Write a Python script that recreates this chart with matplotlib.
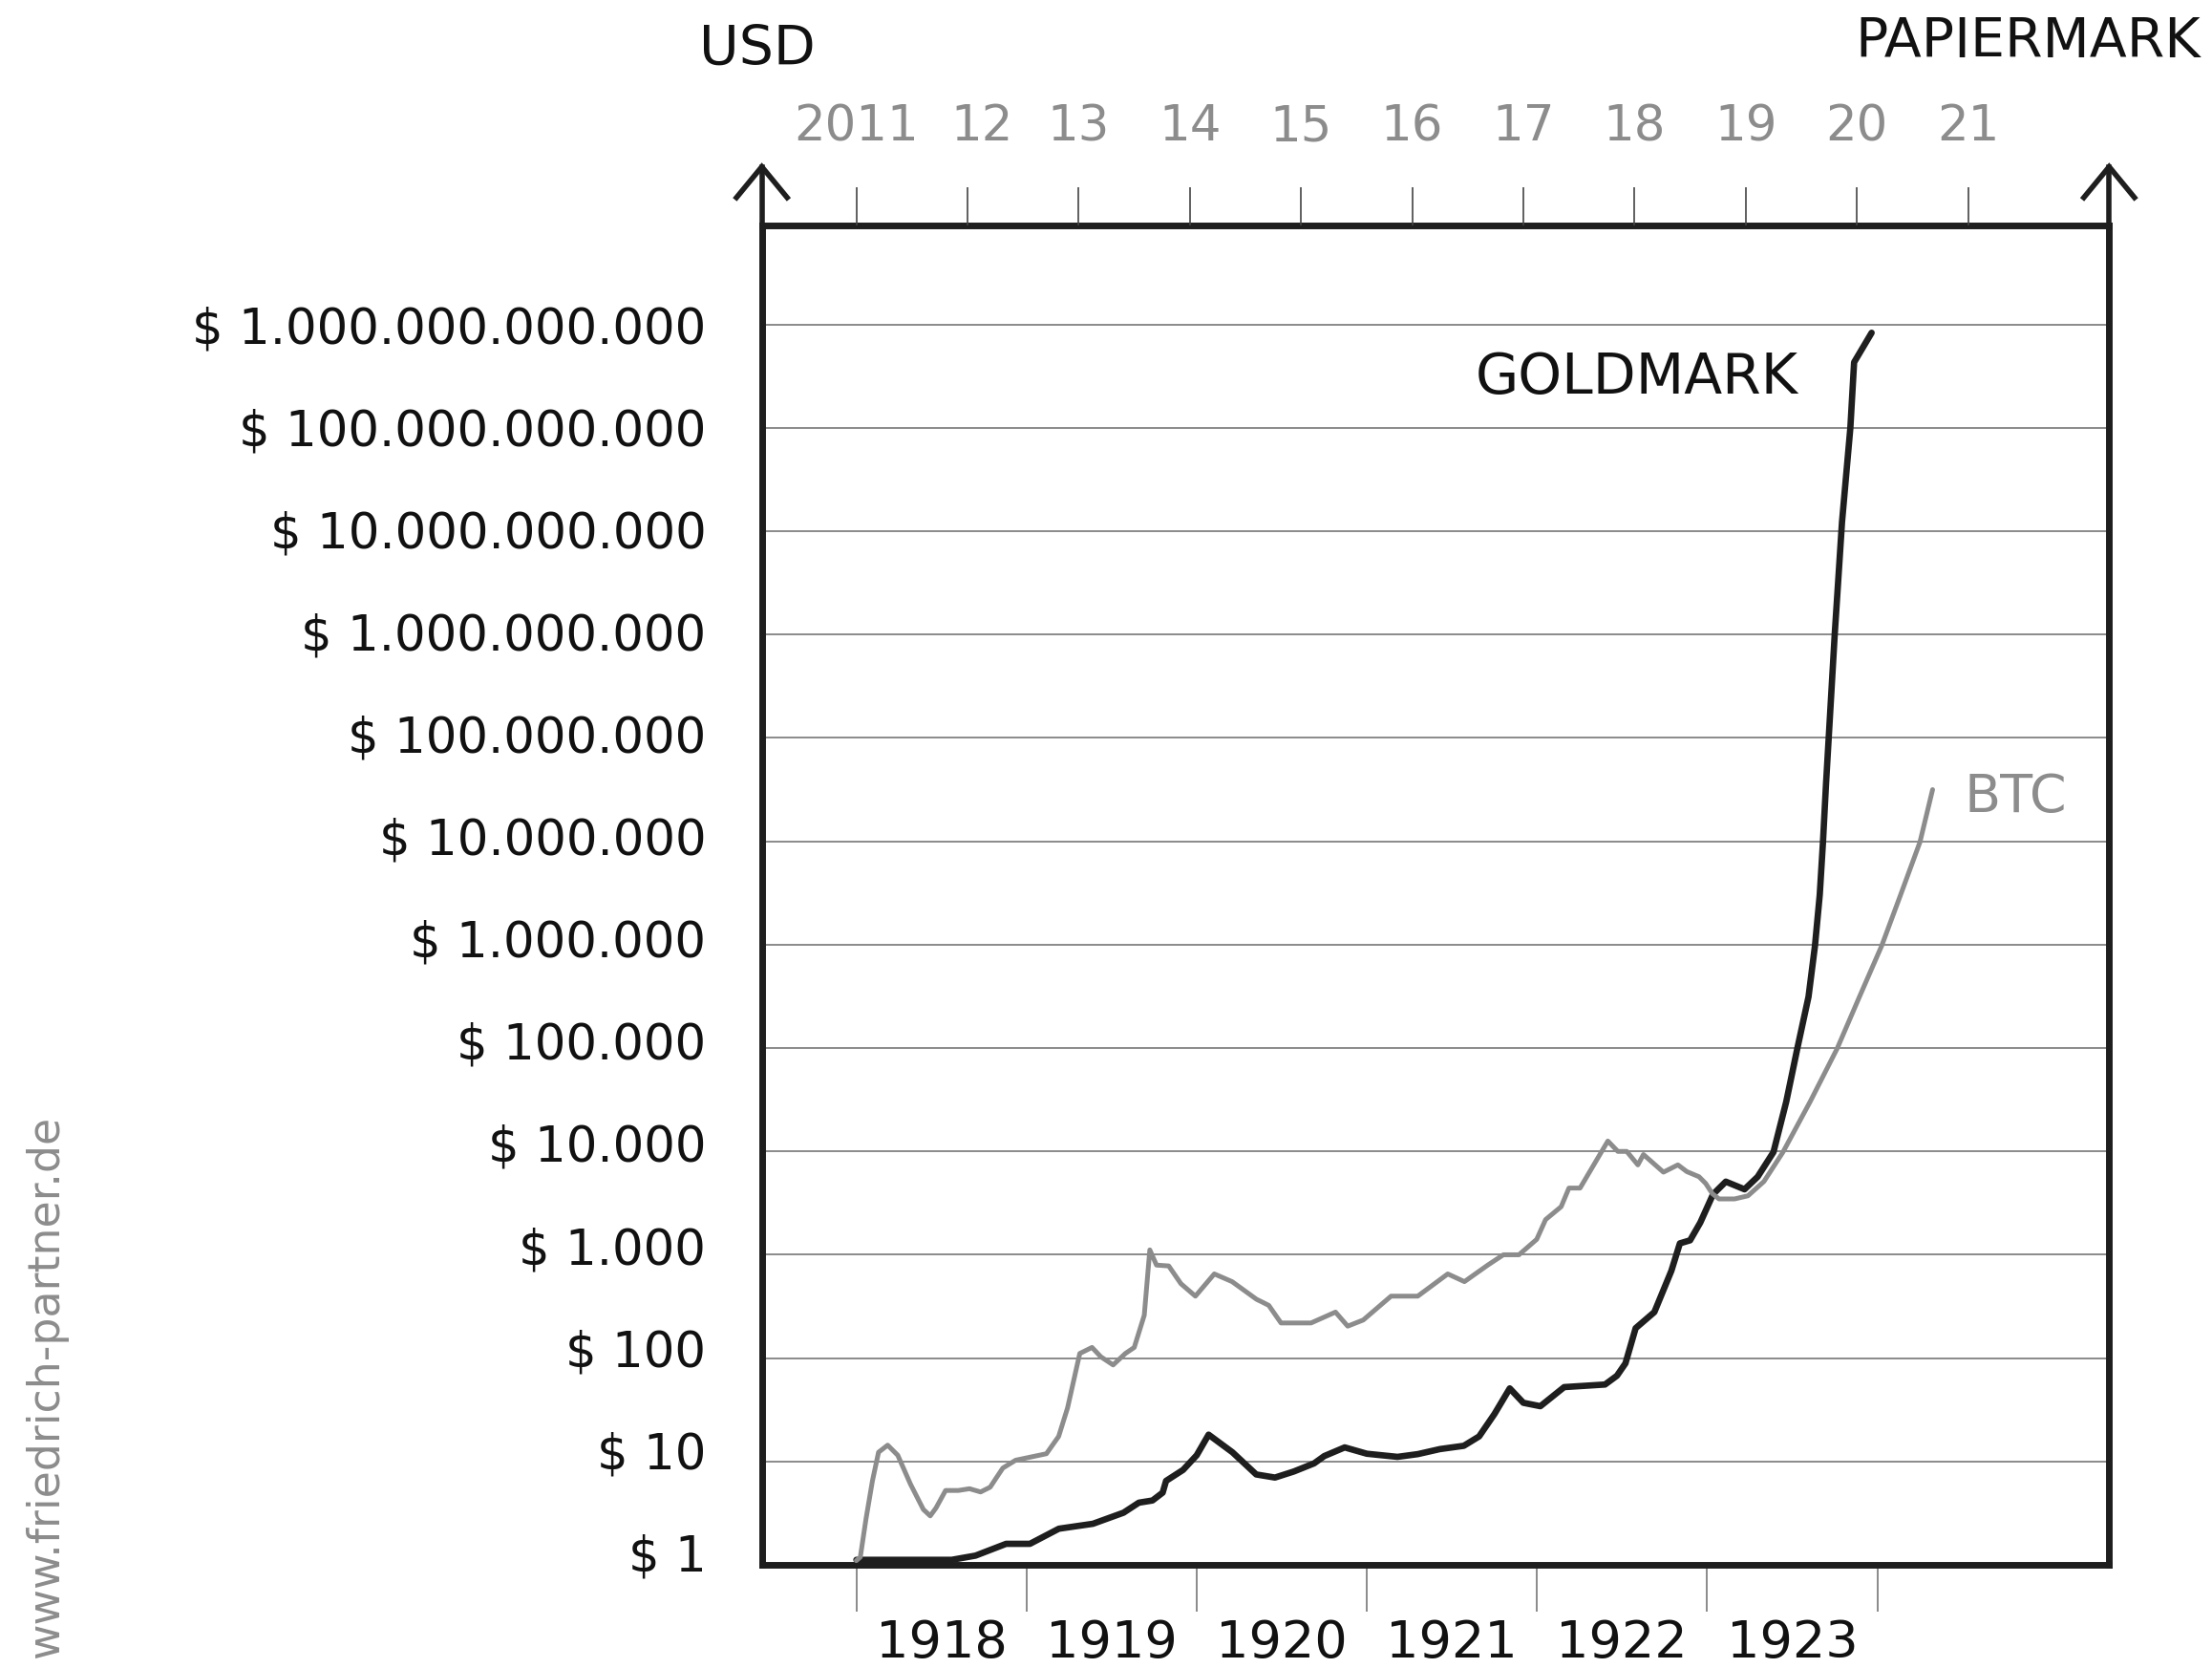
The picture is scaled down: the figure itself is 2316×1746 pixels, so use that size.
import matplotlib
matplotlib.use("Agg")
import matplotlib.pyplot as plt
from matplotlib.ticker import NullLocator
from matplotlib.transforms import ScaledTranslation

# Goldmark (Weimar Republic)
gold_years = [1918.00, 1918.56, 1918.70, 1918.88, 1919.02, 1919.19, 1919.39, 1919.57,
              1919.66, 1919.74, 1919.80, 1919.82, 1919.92, 1920.00, 1920.07, 1920.21,
              1920.35, 1920.46, 1920.57, 1920.69, 1920.75, 1920.87, 1921.00, 1921.18,
              1921.30, 1921.43, 1921.57, 1921.66, 1921.75, 1921.84, 1921.92, 1922.02,
              1922.16, 1922.40, 1922.47, 1922.52, 1922.58, 1922.69, 1922.79, 1922.84,
              1922.90, 1922.96, 1923.035, 1923.11, 1923.22, 1923.297, 1923.39, 1923.465,
              1923.53, 1923.596, 1923.634, 1923.662, 1923.681, 1923.699, 1923.75, 1923.793,
              1923.842, 1923.864, 1923.967]
gold_values = [1.12, 1.12, 1.23, 1.6, 1.6, 2.24, 2.5, 3.2,
               4.0, 4.2, 5.0, 6.5, 8.3, 11.5, 18.2, 12.3,
               7.5, 7.0, 8.0, 9.6, 11.3, 13.7, 11.9, 11.1,
               11.8, 13.2, 14.2, 17.5, 28.8, 51, 37, 34.3,
               52.5, 55.6, 67.6, 89, 195, 279, 700, 1290,
               1380, 2050, 3850, 5100, 4300, 5680, 9840, 30200,
               98600, 313000, 975000, 3.03e6, 9.8e6, 3.6e7, 1.0e9, 1.23e10,
               1.0e11, 4.3e11, 8.3e11]

# Bitcoin
btc_years = [2011.00, 2011.036, 2011.087, 2011.145, 2011.20, 2011.282, 2011.373, 2011.487,
             2011.603, 2011.665, 2011.717, 2011.803, 2011.918, 2012.018, 2012.118, 2012.204,
             2012.261, 2012.318, 2012.433, 2012.576, 2012.71, 2012.82, 2012.90, 2013.01,
             2013.12, 2013.20, 2013.31, 2013.42, 2013.50, 2013.59, 2013.64, 2013.70,
             2013.81, 2013.92, 2014.05, 2014.22, 2014.38, 2014.60, 2014.66, 2014.71,
             2014.82, 2015.09, 2015.31, 2015.42, 2015.56, 2015.81, 2016.05, 2016.32,
             2016.47, 2016.68, 2016.82, 2016.96, 2017.12, 2017.20, 2017.34, 2017.41,
             2017.51, 2017.76, 2017.85, 2017.93, 2018.03, 2018.08, 2018.26, 2018.39,
             2018.47, 2018.58, 2018.64, 2018.70, 2018.76, 2018.90, 2019.02, 2019.164,
             2019.335, 2019.579, 2019.822, 2020.023, 2020.223, 2020.393, 2020.567, 2020.681]
btc_values = [1.1, 1.19, 2.78, 6.5, 12.3, 14.4, 11.5, 6.05,
              3.44, 2.98, 3.56, 5.25, 5.25, 5.46, 5.08, 5.65,
              7.0, 8.65, 10.3, 11.1, 11.9, 17.5, 33, 111,
              127, 103, 86, 111, 127, 260, 1115, 795,
              780, 525, 398, 653, 550, 371, 345, 324,
              219, 219, 279, 204, 234, 398, 398, 653,
              550, 795, 1000, 1000, 1410, 2190, 2920, 4420,
              4420, 12600, 10000, 10000, 7410, 9330, 6300, 7410,
              6380, 5690, 4900, 3900, 3470, 3470, 3720, 5120,
              9840, 30200, 98600, 313000, 975000, 3.03e6, 9.8e6, 3.16e7]

y_ticks = [10 ** k for k in range(13)]
y_labels = ["$ 1", "$ 10", "$ 100", "$ 1.000", "$ 10.000", "$ 100.000", "$ 1.000.000",
            "$ 10.000.000", "$ 100.000.000", "$ 1.000.000.000", "$ 10.000.000.000",
            "$ 100.000.000.000", "$ 1.000.000.000.000"]
bottom_years = [1918, 1919, 1920, 1921, 1922, 1923]
top_years = list(range(2011, 2022))
top_labels = ["2011", "12", "13", "14", "15", "16", "17", "18", "19", "20", "21"]

DARK = "#1e1e1e"
GRAY = "#8c8c8c"

plt.rcParams["font.family"] = ["DejaVu Sans"]

fig = plt.figure(figsize=(23.16, 17.46), dpi=100)
ax = fig.add_axes([0.3444, 0.0618, 0.6091, 0.8029])
ax.set_yscale("log")
ax.set_ylim(1, 10 ** 12.955)
ax.set_xlim(1917.444, 1925.363)

ax2 = ax.twiny()
ax2.set_xlim(2010.150, 2022.269)

ax.plot(gold_years, gold_values, color=DARK, lw=4.8, solid_joinstyle="round",
        solid_capstyle="round", zorder=4)
ax2.plot(btc_years, btc_values, color=GRAY, lw=3.6, solid_joinstyle="round",
         solid_capstyle="round", zorder=3)

# horizontal grid at every decade
ax.set_yticks(y_ticks, labels=y_labels)
ax.yaxis.set_minor_locator(NullLocator())
ax.yaxis.grid(True, color="#8a8a8a", lw=1.4)
ax.tick_params(axis="y", length=0, pad=42, labelsize=37, labelcolor="#111111")
# labels sit a little above their grid lines, more so further down
for k, lbl in enumerate(ax.get_yticklabels()):
    lbl.set_transform(lbl.get_transform() + ScaledTranslation(0, (12 - k) * 0.011, fig.dpi_scale_trans))

# bottom axis: ticks at year boundaries, labels in the middle of each year
ax.set_xticks(bottom_years + [1924])
ax.set_xticklabels([])
ax.set_xticks([y + 0.5 for y in bottom_years], labels=[str(y) for y in bottom_years], minor=True)
ax.tick_params(axis="x", which="major", direction="out", length=35, width=1.2, color="#777777")
ax.tick_params(axis="x", which="minor", length=0, pad=40, labelsize=39, labelcolor="#111111")

# top axis: bitcoin years
ax2.set_xticks(top_years, labels=top_labels)
ax2.tick_params(axis="x", direction="out", length=29, width=1.2, color="#444444",
                pad=27, labelsize=37, labelcolor=GRAY)
lbl12 = ax2.get_xticklabels()[1]
lbl12.set_transform(lbl12.get_transform() + ScaledTranslation(0.15, 0, fig.dpi_scale_trans))

for s in ax.spines.values():
    s.set_linewidth(5)
    s.set_color(DARK)
for s in ax2.spines.values():
    s.set_visible(False)

# arrow heads on both vertical axes
for x in (0, 1):
    ax.plot([x, x], [1, 1.044], color=DARK, lw=4, transform=ax.transAxes, clip_on=False)
    ax.plot([x - 0.0188, x, x + 0.0188], [1.021, 1.044, 1.021], color=DARK, lw=4,
            transform=ax.transAxes, clip_on=False, solid_joinstyle="miter")

fig.text(537 / 1568, 1 - 35 / 1182, "USD", ha="center", va="center", fontsize=41, color="#111111")
fig.text(1560 / 1568, 1 - 30 / 1182, "PAPIERMARK", ha="right", va="center", fontsize=41, color="#111111")
fig.text(1046 / 1568, 1 - 268 / 1182, "GOLDMARK", ha="left", va="center", fontsize=42, color="#111111")
fig.text(1392 / 1568, 1 - 565 / 1182, "BTC", ha="left", va="center", fontsize=40, color=GRAY)
fig.text(33 / 1568, 1 - 1175 / 1182, "www.friedrich-partner.de", rotation=90,
         ha="center", va="bottom", fontsize=33, color=GRAY)

fig.savefig("out.png", dpi=100)
